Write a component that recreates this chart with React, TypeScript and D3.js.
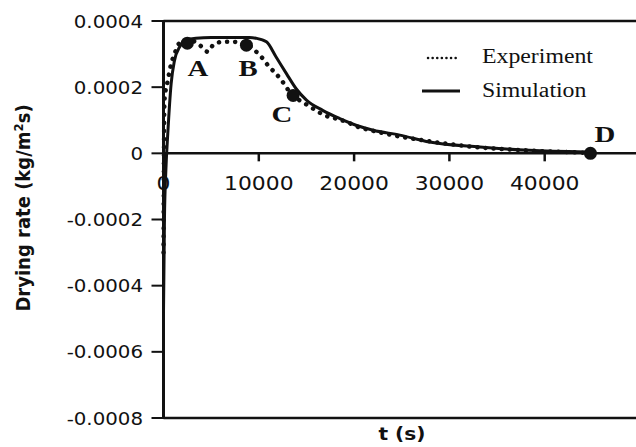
import React, { useEffect, useRef } from "react";
import * as d3 from "d3";

// simulation curve (t in s, rate in kg/m2s)
const simT = [0, 100, 250, 450, 800, 1150, 1700, 2400, 3400, 5000, 7000, 9000, 9700, 10800, 11800, 12900, 13900, 15000, 16700, 18500, 20200, 22000, 24800, 27900, 33200, 38400, 44400];
const simRate = [-4.8e-4, -2.0e-4, -0.5e-4, 0.6e-4, 2.1e-4, 2.8e-4, 3.22e-4, 3.42e-4, 3.48e-4, 3.5e-4, 3.5e-4, 3.5e-4, 3.48e-4, 3.37e-4, 2.92e-4, 2.41e-4, 1.96e-4, 1.61e-4, 1.3e-4, 1.05e-4, 0.85e-4, 0.7e-4, 0.55e-4, 0.34e-4, 0.19e-4, 0.09e-4, 0.04e-4];

// experiment curve
const expT = [0, 100, 450, 800, 1150, 1700, 2500, 3000, 3800, 4650, 5200, 6200, 7300, 8700, 9550, 10400, 11100, 11800, 12500, 13500, 14600, 15700, 16900, 18100, 19200, 20400, 22000, 24000, 26000, 28000, 30000, 32000, 34000, 36000, 38000, 40000, 42000, 44000, 45000];
const expRate = [-3.0e-4, 1.6e-4, 2.2e-4, 2.7e-4, 3.0e-4, 3.33e-4, 3.35e-4, 3.4e-4, 3.27e-4, 3.07e-4, 3.27e-4, 3.37e-4, 3.37e-4, 3.3e-4, 3.12e-4, 2.87e-4, 2.61e-4, 2.41e-4, 2.16e-4, 1.76e-4, 1.55e-4, 1.35e-4, 1.15e-4, 1.05e-4, 0.95e-4, 0.8e-4, 0.68e-4, 0.55e-4, 0.45e-4, 0.36e-4, 0.28e-4, 0.21e-4, 0.16e-4, 0.12e-4, 0.09e-4, 0.06e-4, 0.04e-4, 0.02e-4, 0];

// marked points
const pointNames = ["A", "B", "C", "D"];
const pointT = [2500, 8700, 13600, 44800];
const pointRate = [3.33e-4, 3.27e-4, 1.75e-4, 0];

const xTicks = [0, 10000, 20000, 30000, 40000];
const yTicks = [0.0004, 0.0002, 0, -0.0002, -0.0004, -0.0006, -0.0008];
const yTickLabels = ["0.0004", "0.0002", "0", "-0.0002", "-0.0004", "-0.0006", "-0.0008"];

const W = 636;
const H = 447;

function App() {
  const ref = useRef<SVGSVGElement>(null);

  useEffect(() => {
    const svg = d3.select(ref.current);
    svg.selectAll("*").remove();

    const x = d3.scaleLinear().domain([0, 50000]).range([163.5, 640]);
    const y = d3.scaleLinear().domain([-0.0008, 0.0004]).range([418, 21]);

    // the original image is a bit stretched sideways, so text gets a small x scale
    const txt = (g: any, s: string, tx: number, ty: number, anchor: string, size: number, family: string, weight: string, sx: number) =>
      g.append("text")
        .attr("transform", `translate(${tx},${ty}) scale(${sx},1)`)
        .attr("text-anchor", anchor)
        .attr("font-family", family)
        .attr("font-size", size)
        .attr("font-weight", weight)
        .attr("fill", "#111")
        .text(s);

    const sans = "DejaVu Sans, Verdana, sans-serif";
    const serif = "Liberation Serif, Times New Roman, serif";

    // tick labels (drawn first, the curves cover the "0")
    yTicks.forEach((v, i) => txt(svg, yTickLabels[i], 143, y(v) + 6.5, "end", 18, sans, "normal", 1.1));
    xTicks.forEach((v) => txt(svg, String(v), x(v), 190, "middle", 19, sans, "normal", 1.15));

    // frame lines
    const ax = "#111";
    svg.append("line").attr("x1", x(0)).attr("x2", W).attr("y1", y(0.0004)).attr("y2", y(0.0004)).attr("stroke", ax).attr("stroke-width", 2.5);
    svg.append("line").attr("x1", x(0)).attr("x2", W).attr("y1", y(-0.0008)).attr("y2", y(-0.0008)).attr("stroke", ax).attr("stroke-width", 2.5);
    svg.append("line").attr("x1", x(0)).attr("x2", W).attr("y1", y(0)).attr("y2", y(0)).attr("stroke", ax).attr("stroke-width", 2.5);
    svg.append("line").attr("x1", x(0)).attr("x2", x(0)).attr("y1", y(0.0004) - 1).attr("y2", y(-0.0008) + 1).attr("stroke", ax).attr("stroke-width", 3);

    yTicks.forEach((v) => {
      svg.append("line").attr("x1", x(0) - 12).attr("x2", x(0)).attr("y1", y(v)).attr("y2", y(v)).attr("stroke", ax).attr("stroke-width", 2);
    });
    xTicks.slice(1).forEach((v) => {
      svg.append("line").attr("x1", x(v)).attr("x2", x(v)).attr("y1", y(0)).attr("y2", y(0) + 8).attr("stroke", ax).attr("stroke-width", 2.5);
    });

    const line = d3.line<number>().curve(d3.curveMonotoneX);

    // experiment (dotted)
    svg.append("path")
      .attr("d", line.x((d) => x(d)).y((d, i) => y(expRate[i]))(expT))
      .attr("fill", "none")
      .attr("stroke", "#111")
      .attr("stroke-width", 4.5)
      .attr("stroke-linecap", "round")
      .attr("stroke-dasharray", "0.1 8");

    // simulation (solid)
    svg.append("path")
      .attr("d", line.x((d) => x(d)).y((d, i) => y(simRate[i]))(simT))
      .attr("fill", "none")
      .attr("stroke", "#111")
      .attr("stroke-width", 3);

    // marked points
    pointT.forEach((t, i) => {
      svg.append("circle").attr("cx", x(t)).attr("cy", y(pointRate[i])).attr("r", 6.5).attr("fill", "#111");
    });
    const labelPos = [[198, 76], [248, 76], [282, 122], [605, 142]];
    pointNames.forEach((n, i) => txt(svg, n, labelPos[i][0], labelPos[i][1], "middle", 24, serif, "bold", 1.2));

    // legend
    svg.append("line").attr("x1", 428).attr("x2", 460).attr("y1", 58).attr("y2", 58)
      .attr("stroke", "#111").attr("stroke-width", 2.5).attr("stroke-linecap", "round").attr("stroke-dasharray", "0.1 4.5");
    svg.append("line").attr("x1", 422).attr("x2", 460).attr("y1", 91).attr("y2", 91).attr("stroke", "#111").attr("stroke-width", 3);
    txt(svg, "Experiment", 482, 63, "start", 20, serif, "normal", 1.19);
    txt(svg, "Simulation", 482, 97, "start", 20, serif, "normal", 1.19);

    // axis titles
    const yl = svg.append("text")
      .attr("transform", `translate(30,208) rotate(-90)`)
      .attr("text-anchor", "middle")
      .attr("font-family", "Liberation Sans Narrow, DejaVu Sans Condensed, Roboto, sans-serif")
      .attr("font-size", 20)
      .attr("font-weight", "bold")
      .attr("fill", "#111");
    yl.append("tspan").text("Drying rate (kg/m");
    yl.append("tspan").attr("font-size", 13).attr("dy", -7).text("2");
    yl.append("tspan").attr("dy", 7).text("s)");

    txt(svg, "t (s)", 402, 440, "middle", 18, sans, "bold", 1.12);
  }, []);

  return (
    <svg ref={ref} width={W} height={H} style={{ position: "absolute", left: 0, top: 0, background: "#fff" }} />
  );
}

export default App;
